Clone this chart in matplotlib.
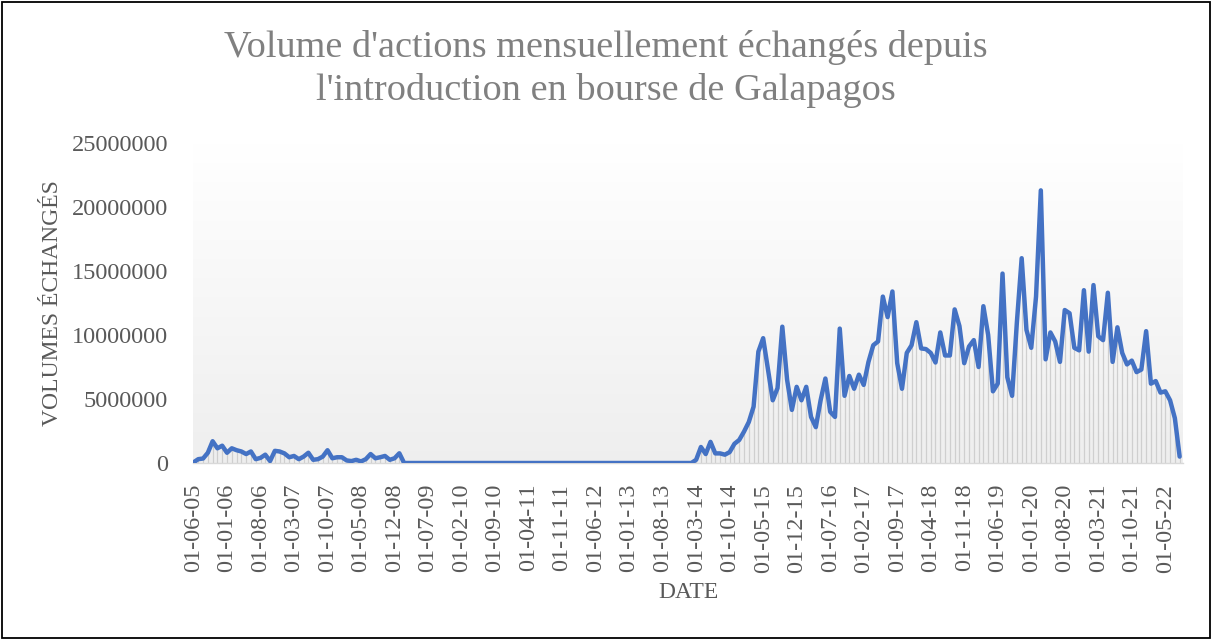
import matplotlib
matplotlib.use('Agg')
import matplotlib.pyplot as plt
import numpy as np
import pandas as pd
from matplotlib.patches import Rectangle

plt.rcParams['font.family'] = ['Liberation Serif', 'DejaVu Serif']

# ---------------- data ----------------
start_month = '2005-06-01'
end_month = '2022-08-01'

# monthly traded volume, in millions of shares
volumes_millions = [
    0.05, 0.3, 0.35, 0.8, 1.7, 1.15, 1.35, 0.8, 1.15, 1.0,
    0.9, 0.7, 0.9, 0.3, 0.4, 0.65, 0.15, 0.95, 0.9, 0.75,
    0.45, 0.55, 0.3, 0.5, 0.8, 0.25, 0.3, 0.5, 1.0, 0.37,
    0.45, 0.45, 0.2, 0.15, 0.25, 0.12, 0.3, 0.7, 0.37, 0.45,
    0.55, 0.25, 0.37, 0.76,
    0, 0, 0, 0, 0, 0, 0, 0, 0, 0,
    0, 0, 0, 0, 0, 0, 0, 0, 0, 0,
    0, 0, 0, 0, 0, 0, 0, 0, 0, 0,
    0, 0, 0, 0, 0, 0, 0, 0, 0, 0,
    0, 0, 0, 0, 0, 0, 0, 0, 0, 0,
    0, 0, 0, 0, 0, 0, 0, 0, 0, 0,
    0,
    0.25, 1.25, 0.7, 1.65, 0.75, 0.75, 0.65, 0.85, 1.5, 1.8,
    2.45, 3.2, 4.4, 8.7, 9.75, 7.3, 4.9, 5.85, 10.65, 6.5,
    4.15, 5.95, 4.9, 5.95, 3.6, 2.8, 4.9, 6.6, 4.0, 3.6,
    10.5, 5.25, 6.8, 5.8, 6.9, 6.1, 7.9, 9.2, 9.5, 13.0,
    11.4, 13.4, 7.8, 5.8, 8.6, 9.2, 11.0, 8.95, 8.9, 8.6,
    7.85, 10.2, 8.4, 8.4, 12.0, 10.7, 7.8, 9.1, 9.6, 7.5,
    12.25, 10.0, 5.6, 6.2, 14.8, 6.7, 5.25, 11.0, 16.0, 10.4,
    9.0, 13.0, 21.3, 8.1, 10.2, 9.5, 7.9, 11.95, 11.7, 9.0,
    8.8, 13.5, 8.7, 13.9, 9.9, 9.6, 13.3, 7.9, 10.6, 8.6,
    7.7, 8.0, 7.1, 7.3, 10.3, 6.2, 6.4, 5.5, 5.6, 4.9,
    3.5, 0.5,
]

tick_labels = [
    '01-06-05', '01-01-06', '01-08-06', '01-03-07', '01-10-07', '01-05-08',
    '01-12-08', '01-07-09', '01-02-10', '01-09-10', '01-04-11', '01-11-11',
    '01-06-12', '01-01-13', '01-08-13', '01-03-14', '01-10-14', '01-05-15',
    '01-12-15', '01-07-16', '01-02-17', '01-09-17', '01-04-18', '01-11-18',
    '01-06-19', '01-01-20', '01-08-20', '01-03-21', '01-10-21', '01-05-22',
]

y_ticks = [0, 5000000, 10000000, 15000000, 20000000, 25000000]

title = "Volume d'actions mensuellement échangés depuis\nl'introduction en bourse de Galapagos"
y_label = 'VOLUMES ÉCHANGÉS'
x_label = 'DATE'

# ---------------- build ----------------
dates = pd.date_range(start_month, end_month, freq='MS')
date_labels = [d.strftime('%d-%m-%y') for d in dates]
volumes = np.array(volumes_millions, dtype=float) * 1e6
x = np.arange(len(dates))
tick_pos = [date_labels.index(t) for t in tick_labels]

W, H = 1212, 639
fig = plt.figure(figsize=(W / 100, H / 100), dpi=100)
fig.patch.set_facecolor('white')
ax = fig.add_axes([193 / W, 1 - 463 / H, 990 / W, 320 / H])

xlim = (-0.1, len(x) - 0.3)
ymax = 25e6

# plot-area gradient (white at top -> light grey at bottom)
grad = np.linspace(1.0, 0.935, 256).reshape(-1, 1)
rgb = np.dstack([grad, grad, grad])
ax.imshow(rgb, extent=[xlim[0], xlim[1], 0, ymax], aspect='auto',
          zorder=0, interpolation='bilinear')

# drop lines
ax.vlines(x, 0, volumes, colors='#cfcfcf', linewidth=0.9, zorder=1)
# main line
ax.plot(x, volumes, color='#4472C4', lw=3.2, solid_joinstyle='round',
        solid_capstyle='round', zorder=3)

ax.set_xlim(*xlim)
ax.set_ylim(0, ymax)

ax.set_yticks(y_ticks)
ax.set_yticklabels([str(v) for v in y_ticks])
ax.set_xticks(tick_pos)
ax.set_xticklabels(tick_labels, rotation=90)

ax.tick_params(axis='y', length=0, pad=18, labelsize=17.5, labelcolor='#595959')
ax.tick_params(axis='x', length=0, pad=15, labelsize=17.5, labelcolor='#595959')

for s in ('top', 'left', 'right'):
    ax.spines[s].set_visible(False)
ax.spines['bottom'].set_color('#d9d9d9')
ax.spines['bottom'].set_linewidth(1.0)
ax.spines['bottom'].set_zorder(2)

ax.set_ylabel(y_label, fontsize=17, color='#595959')
ax.yaxis.set_label_coords(-0.131, 0.5)
ax.set_xlabel(x_label, fontsize=17, color='#595959')
ax.xaxis.set_label_coords(0.5, -0.372)

fig.text(0.5, 1 - 69 / H, title, ha='center', va='center', fontsize=27.5,
         color='#808080', linespacing=1.32)

fig.add_artist(Rectangle((0.0015, 0.002), 0.997, 0.9955, transform=fig.transFigure,
                         fill=False, edgecolor='black', lw=1.3))

fig.savefig('out.png', dpi=100)
